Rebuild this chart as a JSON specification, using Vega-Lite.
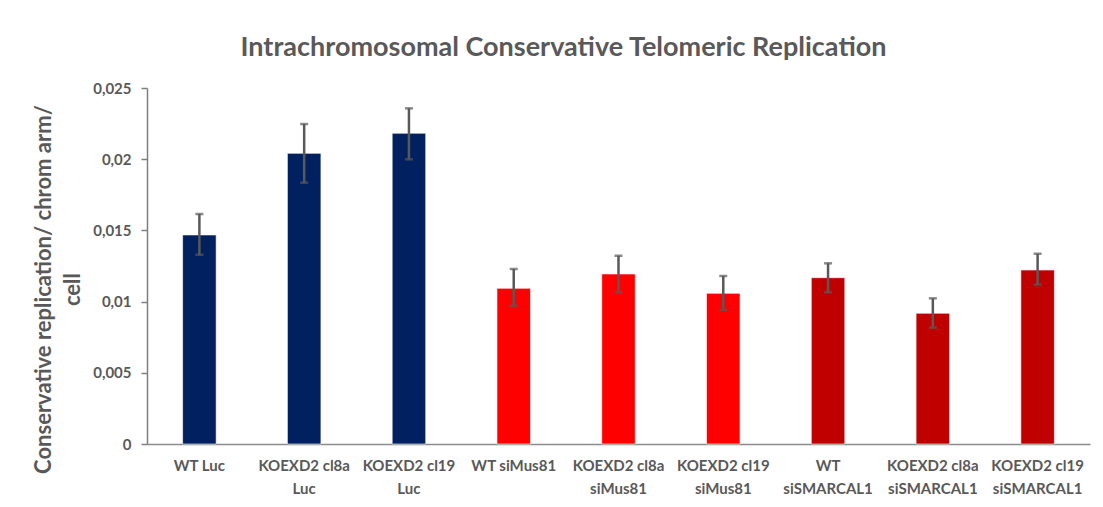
{
  "$schema": "https://vega.github.io/schema/vega-lite/v6.json",
  "width": 943,
  "height": 356,
  "autosize": "none",
  "padding": {"left": 147, "top": 88, "right": 13, "bottom": 63},
  "background": "white",
  "title": {
    "text": "Intrachromosomal Conservative Telomeric Replication",
    "font": "Lato",
    "fontSize": 27,
    "fontWeight": "bold",
    "color": "#595959",
    "anchor": "middle",
    "frame": "group",
    "dx": -55,
    "baseline": "alphabetic",
    "offset": -2
  },
  "config": {
    "view": {"stroke": null},
    "axis": {"grid": false},
    "axisY": {
      "labelFont": "Lato",
      "labelFontSize": 15,
      "labelFontWeight": "bold",
      "labelColor": "#595959",
      "labelPadding": 10,
      "tickSize": 6,
      "tickColor": "#7f7f7f",
      "tickWidth": 1.5,
      "domainColor": "#7f7f7f",
      "domainWidth": 1.5,
      "titleFont": "Lato",
      "titleFontSize": 22,
      "titleFontWeight": "bold",
      "titleColor": "#595959",
      "titleAngle": -90,
      "titleX": -104,
      "titleY": 201,
      "titleAlign": "center",
      "titleBaseline": "middle",
      "titleLineHeight": 29
    }
  },
  "data": {
    "values": [
      {"label": "WT Luc", "group": "Luc", "value": 0.01468, "lo": 0.01329, "hi": 0.01615},
      {"label": "KOEXD2 cl8a|Luc", "group": "Luc", "value": 0.02041, "lo": 0.01835, "hi": 0.02247},
      {"label": "KOEXD2 cl19|Luc", "group": "Luc", "value": 0.02182, "lo": 0.01999, "hi": 0.02357},
      {"label": "WT siMus81", "group": "siMus81", "value": 0.01093, "lo": 0.00969, "hi": 0.01229},
      {"label": "KOEXD2 cl8a|siMus81", "group": "siMus81", "value": 0.01194, "lo": 0.01065, "hi": 0.01322},
      {"label": "KOEXD2 cl19|siMus81", "group": "siMus81", "value": 0.01058, "lo": 0.00941, "hi": 0.0118},
      {"label": "WT|siSMARCAL1", "group": "siSMARCAL1", "value": 0.01168, "lo": 0.01065, "hi": 0.01269},
      {"label": "KOEXD2 cl8a|siSMARCAL1", "group": "siSMARCAL1", "value": 0.00918, "lo": 0.00817, "hi": 0.01023},
      {"label": "KOEXD2 cl19|siSMARCAL1", "group": "siSMARCAL1", "value": 0.01222, "lo": 0.01119, "hi": 0.01336}
    ]
  },
  "encoding": {
    "x": {
      "field": "label",
      "type": "nominal",
      "sort": null,
      "scale": {"paddingInner": 0.68, "paddingOuter": 0.34},
      "axis": {
        "title": null,
        "labelAngle": 0,
        "labelExpr": "split(datum.value, '|')",
        "ticks": false,
        "labelPadding": 14,
        "labelFont": "Lato",
        "labelFontSize": 15,
        "labelFontWeight": "bold",
        "labelColor": "#595959",
        "labelLineHeight": 23,
        "domainColor": "#8c8c8c",
        "domainWidth": 1.5
      }
    }
  },
  "layer": [
    {
      "mark": {"type": "bar", "stroke": "#ffffff", "strokeWidth": 1, "strokeOpacity": 0.6},
      "encoding": {
        "y": {
          "field": "value",
          "type": "quantitative",
          "scale": {"domain": [0, 0.025], "nice": false},
          "title": ["Conservative replication/ chrom arm/", "cell"],
          "axis": {
            "values": [0, 0.005, 0.01, 0.015, 0.02, 0.025],
            "labelExpr": "replace(format(datum.value, ''), '.', ',')"
          }
        },
        "color": {
          "field": "group",
          "type": "nominal",
          "scale": {"domain": ["Luc", "siMus81", "siSMARCAL1"], "range": ["#002060", "#FF0000", "#C00000"]},
          "legend": null
        }
      }
    },
    {
      "mark": {"type": "rule", "color": "#595959", "strokeWidth": 2.5},
      "encoding": {
        "y": {
          "field": "lo",
          "type": "quantitative",
          "scale": {"domain": [0, 0.025], "nice": false},
          "title": ["Conservative replication/ chrom arm/", "cell"],
          "axis": {
            "values": [0, 0.005, 0.01, 0.015, 0.02, 0.025],
            "labelExpr": "replace(format(datum.value, ''), '.', ',')"
          }
        },
        "y2": {"field": "hi"}
      }
    },
    {
      "mark": {"type": "tick", "color": "#595959", "thickness": 2.5, "size": 8},
      "encoding": {
        "y": {
          "field": "lo",
          "type": "quantitative",
          "scale": {"domain": [0, 0.025], "nice": false},
          "title": ["Conservative replication/ chrom arm/", "cell"],
          "axis": {
            "values": [0, 0.005, 0.01, 0.015, 0.02, 0.025],
            "labelExpr": "replace(format(datum.value, ''), '.', ',')"
          }
        }
      }
    },
    {
      "mark": {"type": "tick", "color": "#595959", "thickness": 2.5, "size": 8},
      "encoding": {
        "y": {
          "field": "hi",
          "type": "quantitative",
          "scale": {"domain": [0, 0.025], "nice": false},
          "title": ["Conservative replication/ chrom arm/", "cell"],
          "axis": {
            "values": [0, 0.005, 0.01, 0.015, 0.02, 0.025],
            "labelExpr": "replace(format(datum.value, ''), '.', ',')"
          }
        }
      }
    }
  ]
}
